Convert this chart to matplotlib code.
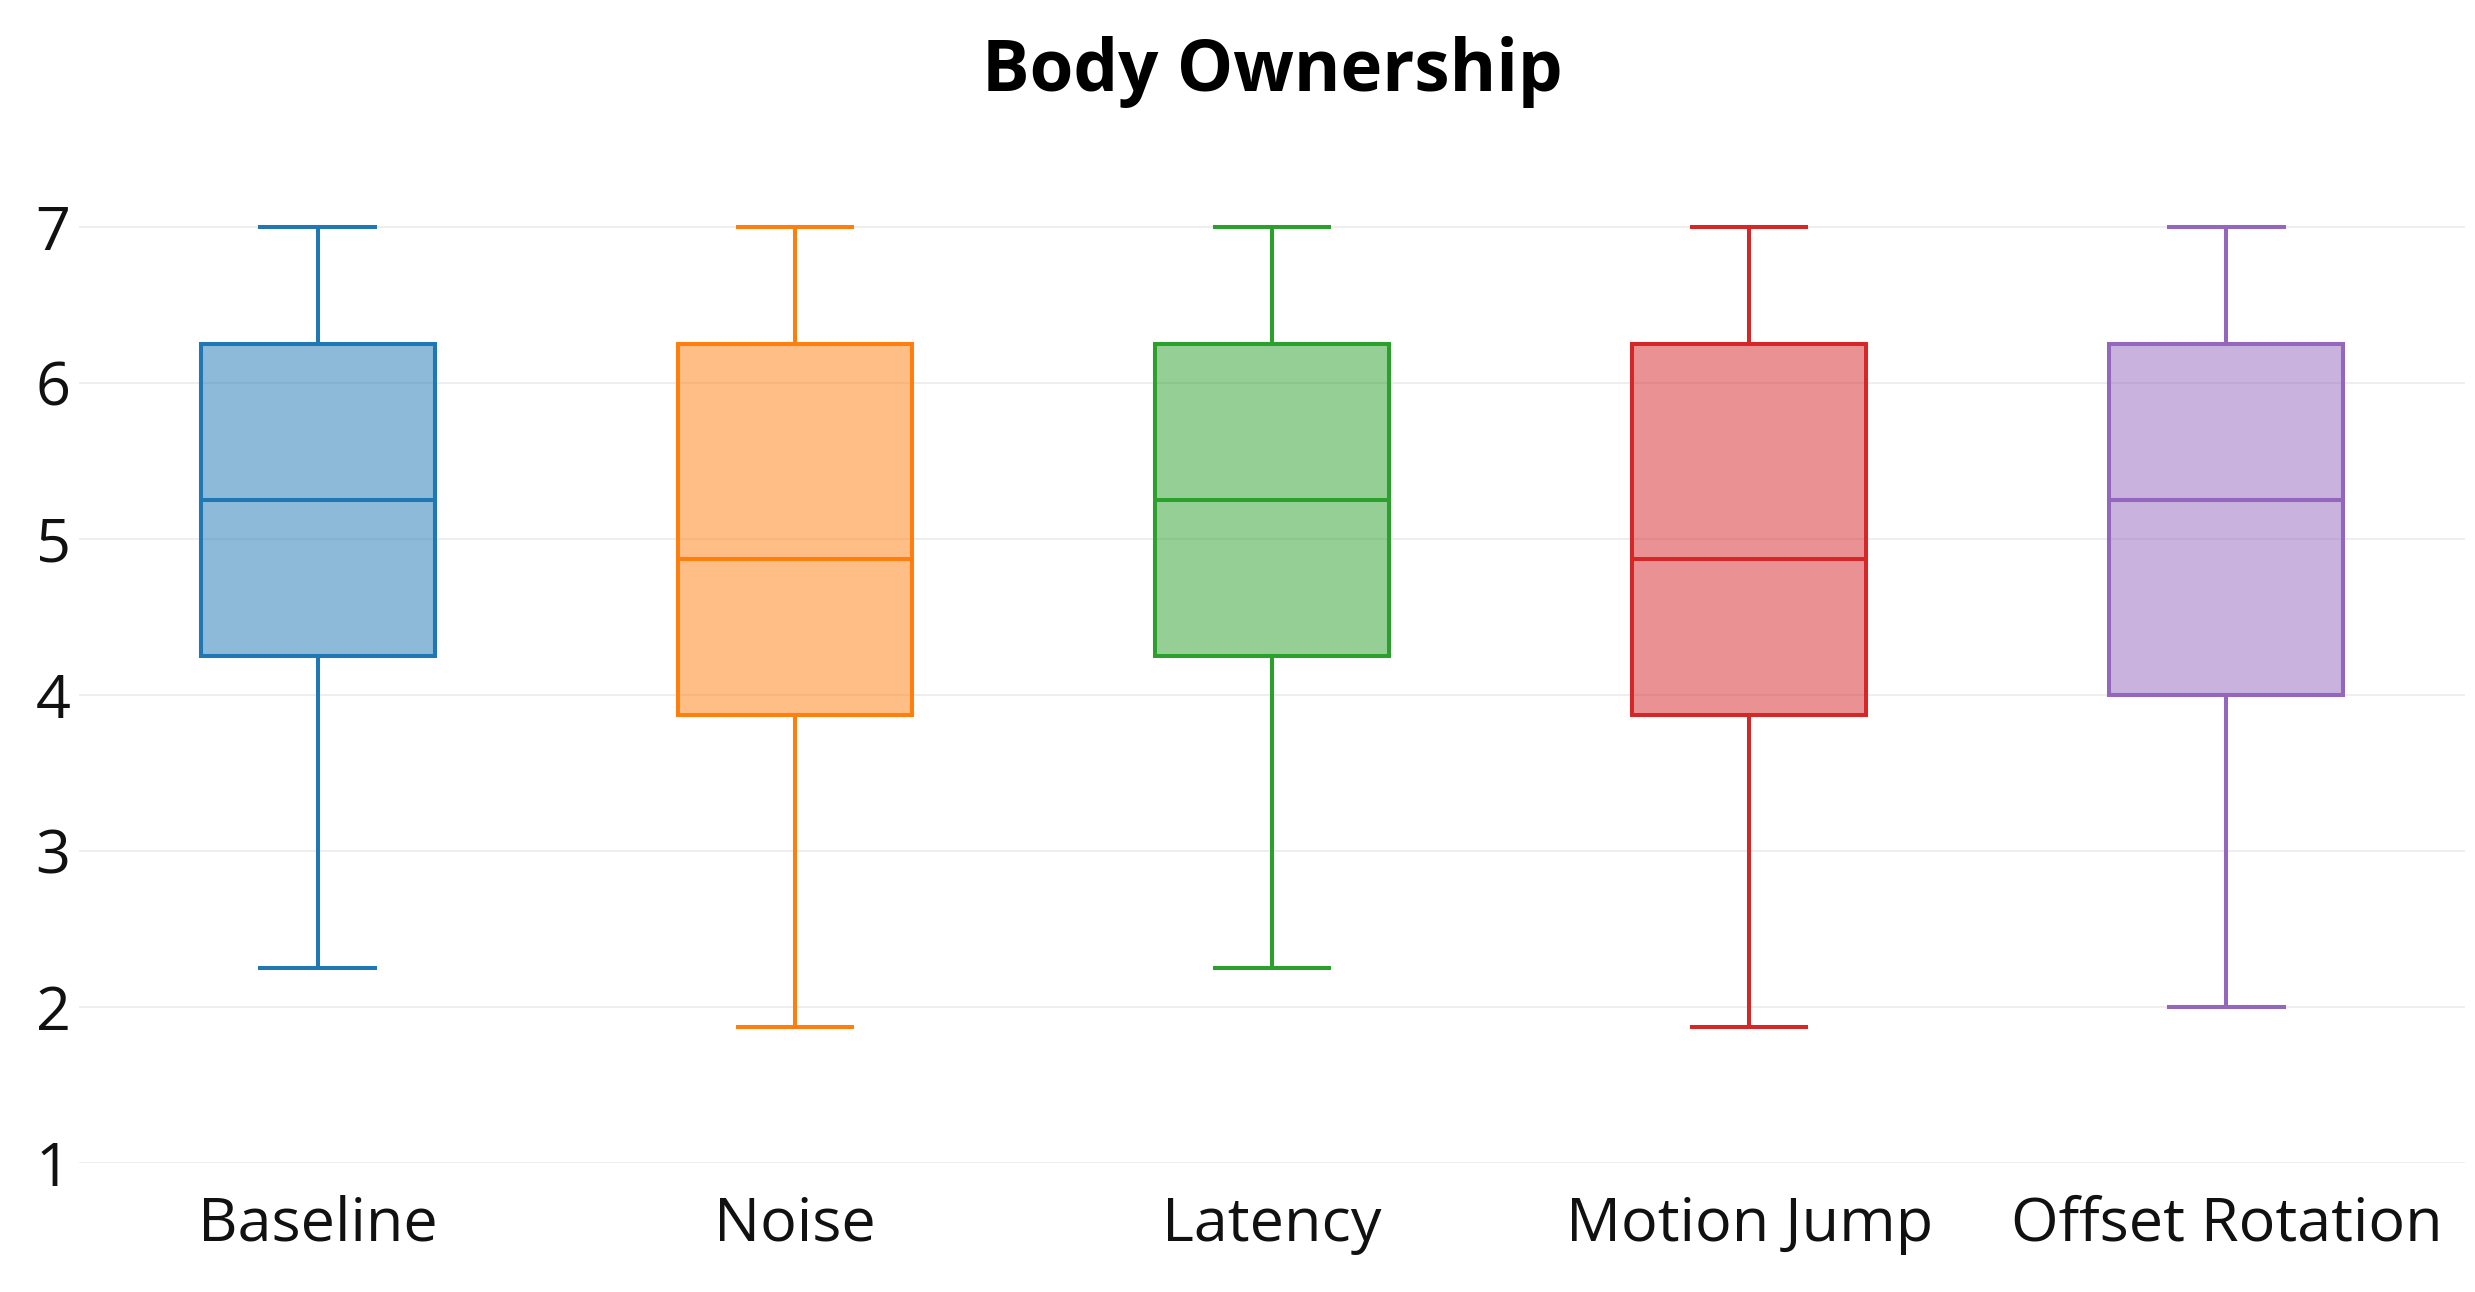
import matplotlib
matplotlib.use("Agg")
import matplotlib.pyplot as plt
from matplotlib.colors import to_rgba

categories = ["Baseline", "Noise", "Latency", "Motion Jump", "Offset Rotation"]
whislo = [2.25, 1.875, 2.25, 1.875, 2.0]
q1 = [4.25, 3.875, 4.25, 3.875, 4.0]
median = [5.25, 4.875, 5.25, 4.875, 5.25]
q3 = [6.25, 6.25, 6.25, 6.25, 6.25]
whishi = [7.0, 7.0, 7.0, 7.0, 7.0]
colors = ["#1f77b4", "#ff7f0e", "#2ca02c", "#d62728", "#9467bd"]
yticks = [1, 2, 3, 4, 5, 6, 7]

plt.rcParams['font.family'] = ['Open Sans', 'DejaVu Sans']

W, H, DPI = 2475, 1292, 100
fig = plt.figure(figsize=(W / DPI, H / DPI), dpi=DPI)
ylo, yhi = 1.0, 7.25
left, right = 79 / W, 2465 / W
bottom = 1 - 1163 / H
top7 = 1 - 227 / H
unit = (top7 - bottom) / 6
top = bottom + unit * (yhi - ylo)
ax = fig.add_axes([left, bottom, right - left, top - bottom])

stats = []
for i, c in enumerate(categories):
    stats.append(dict(label=c, whislo=whislo[i], q1=q1[i], med=median[i],
                      q3=q3[i], whishi=whishi[i], fliers=[]))

lw = 2.9
for i, s in enumerate(stats):
    col = colors[i]
    ax.bxp([s], positions=[i], widths=0.49, patch_artist=True,
           showfliers=False, manage_ticks=False,
           boxprops=dict(facecolor=to_rgba(col, 0.5), edgecolor=col, linewidth=lw),
           medianprops=dict(color=col, linewidth=lw),
           whiskerprops=dict(color=col, linewidth=lw),
           capprops=dict(color=col, linewidth=lw),
           capwidths=0.24)

ax.set_xlim(-0.5, len(categories) - 0.5)
ax.set_ylim(ylo, yhi)
ax.set_xticks(range(len(categories)))
ax.set_xticklabels(categories)
ax.set_yticks(yticks)
ax.set_yticklabels([str(v) for v in yticks])
ax.tick_params(axis='both', length=0, labelsize=44, colors='#111111')
ax.tick_params(axis='x', pad=23)
ax.tick_params(axis='y', pad=6)
for sp in ax.spines.values():
    sp.set_visible(False)
ax.yaxis.grid(True, color='#eeeeee', linewidth=1.4)
ax.set_axisbelow(True)

fig.text((left + right) / 2, 1 - 72 / H, "Body Ownership", ha='center', va='center',
         fontsize=51, fontweight='bold', color='black')

fig.savefig("out.png", dpi=DPI)
